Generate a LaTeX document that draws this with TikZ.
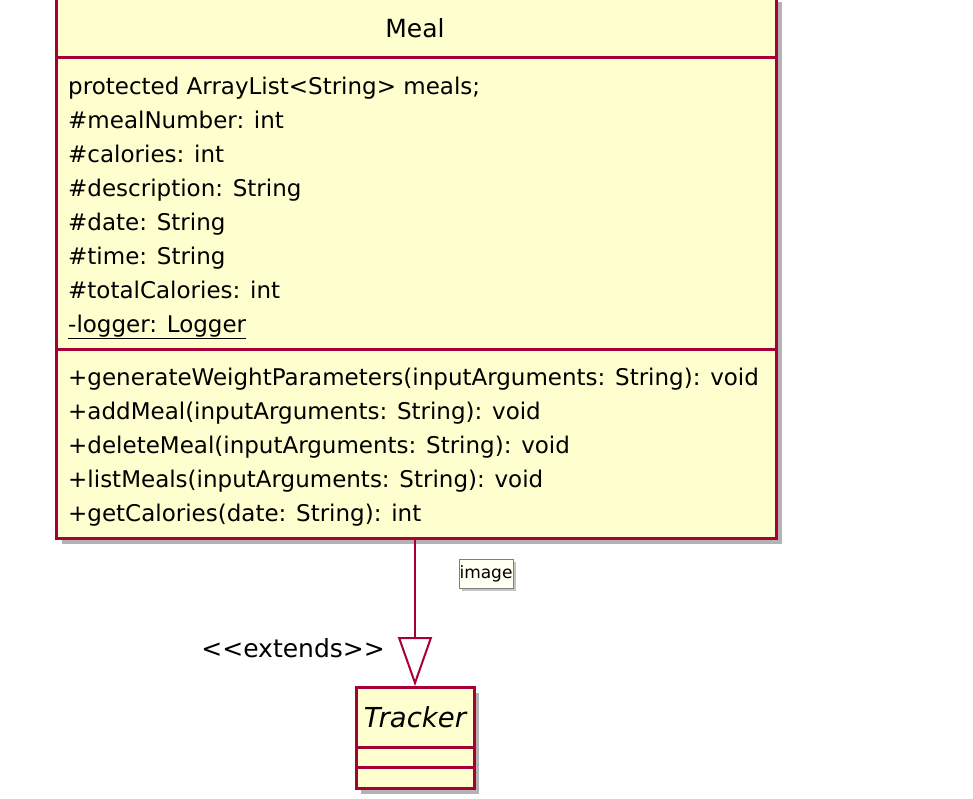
\documentclass[tikz,border=0pt]{standalone}
\usepackage{fontspec}
\setmainfont{DejaVu Sans}
\usepackage{tikz}
\usetikzlibrary{
  arrows.meta,
  positioning,
  shadows
}
\definecolor{umlBorder}{HTML}{A80036}
\definecolor{umlFill}{HTML}{FEFECE}
\definecolor{umlNote}{HTML}{FFFFF2}
\definecolor{umlMute}{HTML}{7F7F7F}
\tikzset{
  classbox/.style={
    draw=umlBorder, fill=umlFill, line width=3pt, inner sep=0pt,
    drop shadow={shadow xshift=5pt, shadow yshift=-5pt, fill=black!50, opacity=.6}
  },
  classline/.style={draw=umlBorder, line width=3pt},
  member/.style={anchor=base west, inner sep=0pt, font=\fontsize{23}{27}\selectfont},
  title/.style={inner sep=0pt, font=\fontsize{25}{30}\selectfont},
  extends/.style={draw=umlBorder, line width=2pt,
    -{Triangle[open, length=49pt, width=34pt, line width=2pt]}},
  stereo/.style={anchor=east, inner sep=0pt, font=\fontsize{25}{30}\selectfont},
  imgtag/.style={draw=umlMute, fill=umlNote, line width=1pt, inner sep=0pt,
    minimum width=54pt, minimum height=29pt, font=\fontsize{17}{20}\selectfont,
    drop shadow={shadow xshift=3pt, shadow yshift=-3pt, fill=black!45, opacity=.5}}
}
\begin{document}
\begin{tikzpicture}[x=1pt, y=-1pt]
  \useasboundingbox (0,0) rectangle (973,798);
  % Meal class
  \node[classbox, anchor=north west, minimum width=720pt, minimum height=542pt] (meal) at (55,-5) {};
  \node[title] (mealname) at (415,28) {Meal};
  \draw[classline] (meal.west |- 0,57) -- (meal.east |- 0,57);
  \draw[classline] (meal.west |- 0,349) -- (meal.east |- 0,349);
  \foreach \txt [count=\i] in {{protected ArrayList<String> meals;}, {\#mealNumber: int},
      {\#calories: int}, {\#description: String}, {\#date: String}, {\#time: String},
      {\#totalCalories: int}, {\underline{-logger: Logger}}}
    \node[member] (attr\i) at (68,{60+34*\i}) {\txt};
  \foreach \txt [count=\i] in {{+generateWeightParameters(inputArguments: String): void},
      {+addMeal(inputArguments: String): void}, {+deleteMeal(inputArguments: String): void},
      {+listMeals(inputArguments: String): void}, {+getCalories(date: String): int}}
    \node[member] (op\i) at (68,{352+33.8*\i}) {\txt};
  % Tracker class
  \node[classbox, anchor=north, minimum width=118pt, minimum height=101pt] (tracker) at (415,686) {};
  \node[title, font=\fontsize{27.5}{31}\selectfont\itshape] (trackername) at (415,717) {Tracker};
  \draw[classline] (tracker.west |- 0,747) -- (tracker.east |- 0,747);
  \draw[classline] (tracker.west |- 0,767) -- (tracker.east |- 0,767);
  % generalisation
  \draw[extends] (meal.south -| tracker.north) -- (tracker.north);
  \node[stereo] (ext) at (385,648) {{<}{<}extends{>}{>}};
  \node[imgtag] (img) at (486,573.5) {image};
\end{tikzpicture}
\end{document}
